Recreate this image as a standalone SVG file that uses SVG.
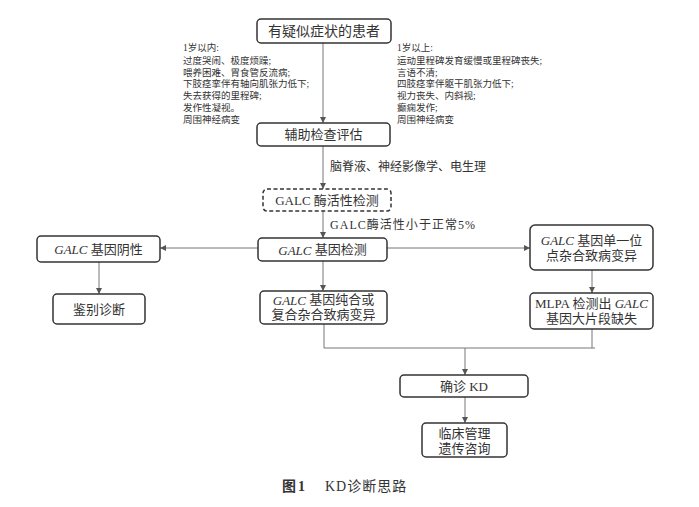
<svg xmlns="http://www.w3.org/2000/svg" width="699" height="507" viewBox="0 0 699 507">
<style>
.box{fill:#fff;stroke:#333;stroke-width:1.5}
.dash{fill:#fff;stroke:#333;stroke-width:1.5;stroke-dasharray:4 2.5}
.ln{fill:none;stroke:#777;stroke-width:1}
.t{font-family:"Liberation Serif","Noto Sans CJK SC",serif;fill:#333;text-anchor:middle;dominant-baseline:central}
.b{font-size:13px}
.s{font-family:"Liberation Serif","Noto Sans CJK SC",serif;fill:#333;font-size:9.5px;dominant-baseline:central}
.e{font-family:"Liberation Serif","Noto Sans CJK SC",serif;fill:#333;font-size:12px;dominant-baseline:central}
.c{font-family:"Liberation Serif","Noto Sans CJK SC",serif;fill:#333;font-size:14px;dominant-baseline:central}
.i{font-style:italic}
</style>
<defs>
<marker id="ar" viewBox="0 0 8 8" refX="8" refY="4" markerWidth="6" markerHeight="6" orient="auto" markerUnits="userSpaceOnUse">
<path d="M0,0 L8,4 L0,8 z" fill="#555"/>
</marker>
</defs>
<rect width="699" height="507" fill="#fff"/>
<g id="connectors">
<line class="ln" x1="323" y1="43" x2="323" y2="123" marker-end="url(#ar)"/>
<line class="ln" x1="323" y1="146" x2="323" y2="189" marker-end="url(#ar)"/>
<line class="ln" x1="323" y1="211" x2="323" y2="238" marker-end="url(#ar)"/>
<line class="ln" x1="258" y1="248" x2="160" y2="248" marker-end="url(#ar)"/>
<line class="ln" x1="99" y1="262" x2="99" y2="294" marker-end="url(#ar)"/>
<line class="ln" x1="323" y1="261" x2="323" y2="291" marker-end="url(#ar)"/>
<line class="ln" x1="387" y1="248" x2="530" y2="248" marker-end="url(#ar)"/>
<line class="ln" x1="592" y1="270" x2="592" y2="293" marker-end="url(#ar)"/>
<polyline class="ln" points="324,324 324,348 595,348"/>
<line class="ln" x1="592" y1="329" x2="592" y2="348"/>
<line class="ln" x1="465" y1="348" x2="465" y2="375" marker-end="url(#ar)"/>
<line class="ln" x1="465" y1="397" x2="465" y2="423" marker-end="url(#ar)"/>
<text class="e" x="330" y="167">脑脊液、神经影像学、电生理</text>
<text class="e" x="330" y="225" textLength="145" lengthAdjust="spacing">GALC酶活性小于正常5%</text>
</g>
<g id="n1">
<rect class="box" x="257" y="19" width="134" height="24" rx="4"/>
<text class="t" x="324" y="31" font-size="14">有疑似症状的患者</text>
</g>
<g id="left-notes">
<text class="s" x="183" y="48">1岁以内:</text>
<text class="s" x="183" y="61">过度哭闹、极度烦躁;</text>
<text class="s" x="183" y="73">喂养困难、胃食管反流病;</text>
<text class="s" x="183" y="84">下肢痉挛伴有轴向肌张力低下;</text>
<text class="s" x="183" y="96">失去获得的里程碑;</text>
<text class="s" x="183" y="108">发作性凝视。</text>
<text class="s" x="183" y="120">周围神经病变</text>
</g>
<g id="right-notes">
<text class="s" x="397" y="48">1岁以上:</text>
<text class="s" x="397" y="61">运动里程碑发育缓慢或里程碑丧失;</text>
<text class="s" x="397" y="73">言语不清;</text>
<text class="s" x="397" y="84">四肢痉挛伴躯干肌张力低下;</text>
<text class="s" x="397" y="96">视力丧失、内斜视;</text>
<text class="s" x="397" y="108">癫痫发作;</text>
<text class="s" x="397" y="120">周围神经病变</text>
</g>
<g id="n2">
<rect class="box" x="257" y="123" width="133" height="23" rx="4"/>
<text class="t b" x="323.5" y="134.5">辅助检查评估</text>
</g>
<g id="n3">
<rect class="dash" x="263" y="189" width="128" height="22" rx="4"/>
<text class="t b" x="327" y="200">GALC 酶活性检测</text>
</g>
<g id="n4">
<rect class="box" x="258" y="238" width="129" height="23" rx="4"/>
<text class="t b" x="322.5" y="249.5"><tspan class="i">GALC</tspan> 基因检测</text>
</g>
<g id="n5">
<rect class="box" x="37" y="236" width="123" height="26" rx="4"/>
<text class="t b" x="98.5" y="249"><tspan class="i">GALC</tspan> 基因阴性</text>
</g>
<g id="n6">
<rect class="box" x="53" y="294" width="92" height="30" rx="4"/>
<text class="t b" x="99" y="309">鉴别诊断</text>
</g>
<g id="n7">
<rect class="box" x="260" y="291" width="127" height="33" rx="4"/>
<text class="t b" x="323.5" y="299.5"><tspan class="i">GALC</tspan> 基因纯合或</text>
<text class="t b" x="323.5" y="314.5">复合杂合致病变异</text>
</g>
<g id="n8">
<rect class="box" x="530" y="225" width="123" height="45" rx="5"/>
<text class="t b" x="591.5" y="240"><tspan class="i">GALC</tspan> 基因单一位</text>
<text class="t b" x="591.5" y="255">点杂合致病变异</text>
</g>
<g id="n9">
<rect class="box" x="530" y="293" width="123" height="36" rx="4"/>
<text class="t b" x="591.5" y="303">MLPA 检测出 <tspan class="i">GALC</tspan></text>
<text class="t b" x="591.5" y="318">基因大片段缺失</text>
</g>
<g id="n10">
<rect class="box" x="400" y="375" width="128" height="22" rx="4"/>
<text class="t b" x="464" y="386">确诊 KD</text>
</g>
<g id="n11">
<rect class="box" x="422" y="423" width="85" height="34" rx="4"/>
<text class="t b" x="464.5" y="433">临床管理</text>
<text class="t b" x="464.5" y="448">遗传咨询</text>
</g>
<g id="caption">
<text class="c" x="282" y="486" font-weight="bold" textLength="23" lengthAdjust="spacing">图1</text>
<text class="c" x="325" y="486" font-size="15" letter-spacing="1">KD诊断思路</text>
</g>
</svg>
